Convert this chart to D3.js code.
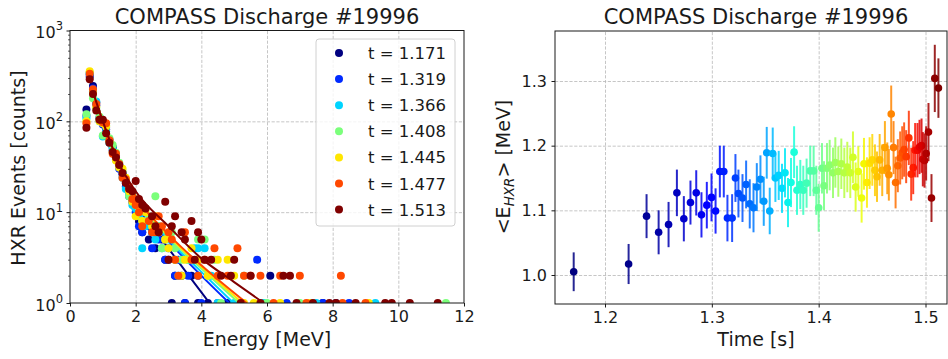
<!DOCTYPE html>
<html>
<head>
<meta charset="utf-8">
<script src="https://cdn.jsdelivr.net/npm/d3@7"></script>
<style>
  html, body { margin: 0; padding: 0; background: #fff; }
  svg { display: block; font-family: "DejaVu Sans", sans-serif; }
</style>
</head>
<body>
<svg id="chart" width="948" height="359"></svg>
<script>
// ---------- HXR energy spectra: [energy MeV, counts] ----------
const seriesTimes = ["1.171", "1.319", "1.366", "1.408", "1.445", "1.477", "1.513"];

const spec1171 = [[0.5,135],[0.6,310],[0.7,245],[0.8,160],[0.9,108],[1.0,100],[1.1,82],[1.2,63],[1.3,52],[1.4,40],[1.5,33],[1.6,26],[1.7,21],[1.8,17],[1.9,13],[2.0,11],[2.1,8],[2.2,6],[2.3,9],[2.4,5],[2.5,6],[2.6,4],[2.8,5],[2.9,3],[3.0,3],[3.1,1],[3.2,2],[3.4,2],[3.5,1],[3.7,2],[3.9,1],[4.2,1],[4.8,1],[6.1,2],[7.7,1],[8.1,1]];
const spec1319 = [[0.5,115],[0.6,330],[0.7,230],[0.8,150],[0.9,110],[1.0,92],[1.1,85],[1.2,60],[1.3,48],[1.4,42],[1.5,30],[1.6,27],[1.7,19],[1.8,15],[1.9,14],[2.0,10],[2.1,7],[2.2,6],[2.3,9],[2.4,7],[2.5,4],[2.6,6],[2.7,5],[2.9,3],[3.0,4],[3.2,2],[3.3,3],[3.5,1],[3.6,2],[3.9,2],[4.0,1],[4.5,1],[5.7,3],[6.6,1],[7.7,1],[8.5,1]];
const spec1366 = [[0.5,108],[0.6,340],[0.7,215],[0.8,165],[0.9,100],[1.0,68],[1.1,78],[1.2,58],[1.3,50],[1.4,38],[1.5,33],[1.6,24],[1.7,18],[1.8,16],[1.9,12],[2.0,11],[2.1,9],[2.2,4],[2.3,7],[2.4,8],[2.5,6],[2.6,5],[2.7,7],[2.8,4],[3.0,5],[3.2,3],[3.3,2],[3.6,3],[3.8,4],[3.9,4],[4.1,4],[4.3,2],[4.5,1],[5.0,1],[5.9,1],[7.5,1],[9.3,1]];
const spec1408 = [[0.5,120],[0.6,345],[0.7,180],[0.8,140],[0.9,112],[1.0,70],[1.1,90],[1.2,65],[1.3,55],[1.4,45],[1.5,35],[1.6,28],[1.7,22],[1.8,15],[1.9,16],[2.0,12],[2.1,11],[2.2,8],[2.4,9],[2.6,15],[2.7,7],[2.8,4],[2.9,5],[3.1,6],[3.2,4],[3.4,3],[3.6,3],[3.9,5],[4.1,5],[4.2,2],[4.4,3],[4.6,1],[5.3,2],[6.0,1],[7.0,1],[11.45,1]];
const spec1445 = [[0.5,100],[0.6,355],[0.7,205],[0.8,145],[0.9,100],[1.0,95],[1.1,88],[1.2,60],[1.3,46],[1.4,37],[1.5,31],[1.6,30],[1.7,24],[1.8,17],[1.9,13],[2.0,9],[2.1,12],[2.2,8],[2.3,10],[2.5,7],[2.6,9],[2.7,6],[2.9,5],[3.0,4],[3.2,3],[3.4,2],[3.5,3],[3.7,4],[3.9,3],[4.2,2],[4.5,3],[4.8,3],[5.0,2],[5.3,1],[5.6,1],[6.4,1],[7.3,1],[9.1,1]];
const spec1477 = [[0.5,95],[0.6,335],[0.7,225],[0.8,155],[0.9,105],[1.0,98],[1.1,95],[1.2,62],[1.3,44],[1.4,44],[1.5,34],[1.6,24],[1.7,23],[1.8,19],[1.9,14],[2.0,12],[2.1,10],[2.2,7],[2.3,11],[2.4,8],[2.5,6],[2.6,6],[2.7,9],[2.8,7],[3.0,6],[3.1,5],[3.2,3],[3.3,2],[3.5,6],[3.7,3],[3.9,2],[4.1,3],[4.4,4],[4.5,2],[4.8,2],[5.1,4],[5.3,2],[5.5,2],[5.8,2],[6.2,1],[6.4,2],[7.0,2],[7.2,1],[8.25,2],[8.3,1],[9.0,1]];
const spec1513 = [[0.5,85],[0.6,290],[0.7,200],[0.8,132],[0.9,104],[1.0,104],[1.1,74],[1.2,58],[1.3,46],[1.4,40],[1.5,33],[1.6,27],[1.7,21],[1.8,18],[1.9,17],[2.0,22],[2.1,14],[2.2,12],[2.3,11],[2.5,9],[2.6,7],[2.7,6],[2.9,13],[3.0,3],[3.1,7],[3.2,9],[3.4,6],[3.5,5],[3.7,8],[3.8,3],[3.9,6],[4.0,5],[4.1,3],[4.3,3],[4.6,2],[4.9,2],[5.0,3],[5.2,1],[5.5,2],[5.8,1],[6.5,2],[6.7,2],[6.9,1],[7.4,1],[7.9,1],[8.1,1],[8.7,1],[9.6,1],[9.8,1],[10.35,1],[11.2,1]];

// fitted spectra (knots of each fit curve): [energy MeV, counts]
const fit1171 = [[0.7,210],[1.0,100],[1.5,33],[2.0,13],[3.0,4.0],[4.25,1]];
const fit1319 = [[0.7,210],[1.0,100],[1.5,33],[2.0,14],[3.0,4.8],[4.0,2.0],[4.85,1]];
const fit1366 = [[0.7,210],[1.0,100],[1.5,33],[2.0,14],[3.0,5.0],[4.0,2.2],[4.98,1]];
const fit1408 = [[0.7,210],[1.0,100],[1.5,33],[2.0,14.5],[3.0,5.3],[4.0,2.4],[5.15,1]];
const fit1445 = [[0.7,210],[1.0,100],[1.5,33],[2.0,15],[3.0,5.5],[4.0,2.5],[5.25,1]];
const fit1477 = [[0.7,210],[1.0,100],[1.5,33],[2.0,15],[3.0,5.7],[4.0,2.6],[5.38,1]];
const fit1513 = [[0.7,210],[1.0,100],[1.5,34],[2.0,17],[3.0,7.0],[4.0,3.1],[5.0,1.7],[5.9,1]];

const spectra = [spec1171, spec1319, spec1366, spec1408, spec1445, spec1477, spec1513];
const fits = [fit1171, fit1319, fit1366, fit1408, fit1445, fit1477, fit1513];

const energyTicks = [0, 2, 4, 6, 8, 10, 12];
const countDecades = [0, 1, 2, 3];

// ---------- mean HXR energy vs time ----------
const timeValues = [1.1707,1.2221,1.2389,1.2502,1.2595,1.2673,1.2738,1.2800,1.2854,1.2903,
  1.2953,1.2997,1.3035,1.3075,1.3112,1.3146,1.3190,1.3221,1.3249,1.3287,
  1.3321,1.3355,1.3390,1.3421,1.3455,1.3486,1.3514,1.3542,1.3570,1.3595,
  1.3626,1.3657,1.3685,1.3713,1.3741,1.3770,1.3797,1.3828,1.3856,1.3887,
  1.3921,1.3953,1.3978,1.4000,1.4031,1.4050,1.4078,1.4103,1.4134,1.4156,
  1.4184,1.4212,1.4240,1.4268,1.4296,1.4321,1.4346,1.4371,1.4402,1.4424,
  1.4452,1.4477,1.4502,1.4527,1.4546,1.4571,1.4595,1.4620,1.4642,1.4657,
  1.4679,1.4701,1.4720,1.4741,1.4763,1.4782,1.4800,1.4819,1.4844,1.4866,
  1.4885,1.4903,1.4925,1.4944,1.4963,1.4975,1.4991,1.5006,1.5028,1.5056,
  1.5087,1.5121];
const meanEnergy = [1.005,1.017,1.091,1.066,1.078,1.127,1.087,1.112,1.127,1.093,
  1.108,1.120,1.099,1.160,1.160,1.088,1.088,1.150,1.126,1.119,
  1.140,1.110,1.104,1.136,1.148,1.114,1.189,1.099,1.188,1.150,
  1.154,1.134,1.158,1.112,1.143,1.190,1.131,1.140,1.131,1.142,
  1.161,1.161,1.131,1.104,1.165,1.138,1.165,1.170,1.158,1.174,
  1.160,1.172,1.158,1.167,1.158,1.182,1.136,1.160,1.119,1.172,
  1.143,1.173,1.178,1.162,1.152,1.178,1.162,1.197,1.165,1.155,
  1.249,1.197,1.143,1.169,1.181,1.189,1.194,1.183,1.212,1.156,
  1.166,1.193,1.193,1.198,1.200,1.179,1.177,1.188,1.221,1.119,
  1.304,1.289];
const energyError = [0.030,0.031,0.034,0.034,0.035,0.036,0.035,0.034,0.035,0.035,
  0.036,0.037,0.035,0.040,0.040,0.036,0.037,0.037,0.037,0.037,
  0.037,0.038,0.038,0.037,0.037,0.038,0.040,0.036,0.040,0.037,
  0.038,0.038,0.038,0.038,0.038,0.040,0.038,0.038,0.038,0.038,
  0.039,0.039,0.038,0.037,0.039,0.038,0.039,0.039,0.039,0.039,
  0.039,0.039,0.039,0.039,0.039,0.040,0.038,0.039,0.038,0.040,
  0.039,0.040,0.040,0.040,0.039,0.040,0.040,0.041,0.040,0.040,
  0.044,0.041,0.040,0.041,0.041,0.041,0.042,0.041,0.042,0.041,
  0.041,0.042,0.042,0.042,0.042,0.042,0.042,0.042,0.045,0.037,
  0.052,0.046];
const timeTicks = [1.2, 1.3, 1.4, 1.5];
const meanTicks = [1.0, 1.1, 1.2, 1.3];

// ---------- jet colour map ----------
const jetR = d3.scaleLinear().domain([0, 0.35, 0.66, 0.89, 1]).range([0, 0, 1, 1, 0.5]).clamp(true);
const jetG = d3.scaleLinear().domain([0, 0.125, 0.375, 0.64, 0.91, 1]).range([0, 0, 1, 1, 0, 0]).clamp(true);
const jetB = d3.scaleLinear().domain([0, 0.11, 0.34, 0.65, 1]).range([0.5, 1, 1, 0, 0]).clamp(true);
function jet(v) {
  return d3.rgb(jetR(v) * 255, jetG(v) * 255, jetB(v) * 255).formatHex();
}

const svg = d3.select("#chart");
const ink = "#1a1a1a";
const gridColor = "#b8b8b8";

// ================= left panel: spectra =================
const L = { left: 70, right: 464, top: 30.5, bottom: 303 };
const xE = d3.scaleLinear().domain([0, 12]).range([L.left, L.right]);
const yC = d3.scaleLog().domain([1, 1000]).range([L.bottom, L.top]);

svg.append("clipPath").attr("id", "clipL").append("rect")
  .attr("x", L.left).attr("y", L.top).attr("width", L.right - L.left).attr("height", L.bottom - L.top);

// grid
svg.append("g").attr("transform", `translate(0,${L.bottom})`)
  .call(d3.axisBottom(xE).tickValues(energyTicks.slice(1, -1)).tickSize(-(L.bottom - L.top)).tickFormat(""))
  .call(g => g.select(".domain").remove())
  .call(g => g.selectAll("line").attr("stroke", gridColor).attr("stroke-width", 0.8).attr("stroke-dasharray", "3.2,1.6"));
svg.append("g").attr("transform", `translate(${L.left},0)`)
  .call(d3.axisLeft(yC).tickValues([10, 100]).tickSize(-(L.right - L.left)).tickFormat(""))
  .call(g => g.select(".domain").remove())
  .call(g => g.selectAll("line").attr("stroke", gridColor).attr("stroke-width", 0.8).attr("stroke-dasharray", "3.2,1.6"));

// data: per series scatter then fit
const plotL = svg.append("g").attr("clip-path", "url(#clipL)");
const fitLine = d3.line().x(d => xE(d[0])).y(d => yC(d[1])).curve(d3.curveMonotoneX);
spectra.forEach((s, i) => {
  const col = jet(i / (spectra.length - 1));
  plotL.append("g").selectAll("circle").data(s).join("circle")
    .attr("cx", d => xE(d[0])).attr("cy", d => yC(d[1])).attr("r", 4).attr("fill", col);
  plotL.append("path").datum(fits[i]).attr("d", fitLine)
    .attr("fill", "none").attr("stroke", col).attr("stroke-width", 2);
});

// axes
const axL = svg.append("g").attr("font-size", 16);
axL.append("g").attr("transform", `translate(0,${L.bottom})`)
  .call(d3.axisBottom(xE).tickValues(energyTicks).tickSize(3.5).tickPadding(4.5).tickFormat(d3.format("d")))
  .call(g => g.select(".domain").remove())
  .call(g => g.selectAll("line").attr("stroke", ink))
  .call(g => g.selectAll("text").attr("fill", ink).attr("font-size", 16).attr("font-family", "DejaVu Sans"));

const minorCounts = [];
[1, 10, 100].forEach(b => { for (let k = 2; k <= 9; k++) minorCounts.push(b * k); });
axL.append("g").attr("transform", `translate(${L.left},0)`)
  .call(d3.axisLeft(yC).tickValues(countDecades.map(e => Math.pow(10, e))).tickSize(3.5).tickFormat(""))
  .call(g => g.select(".domain").remove())
  .call(g => g.selectAll("line").attr("stroke", ink));
axL.append("g").attr("transform", `translate(${L.left},0)`)
  .call(d3.axisLeft(yC).tickValues(minorCounts).tickSize(2).tickFormat(""))
  .call(g => g.select(".domain").remove())
  .call(g => g.selectAll("line").attr("stroke", ink).attr("stroke-width", 0.7));

const decLabels = axL.append("g").selectAll("text").data(countDecades).join("text")
  .attr("x", L.left - 7).attr("y", d => yC(Math.pow(10, d)) + 7.5)
  .attr("text-anchor", "end").attr("font-size", 16).attr("fill", ink);
decLabels.append("tspan").text("10");
decLabels.append("tspan").attr("dy", -8).attr("font-size", 11.5).text(d => d);

svg.append("rect").attr("x", L.left).attr("y", L.top).attr("width", L.right - L.left).attr("height", L.bottom - L.top)
  .attr("fill", "none").attr("stroke", ink).attr("stroke-width", 1);

svg.append("text").attr("x", (L.left + L.right) / 2).attr("y", 24).attr("text-anchor", "middle")
  .attr("font-size", 21).attr("fill", ink).text("COMPASS Discharge #19996");
svg.append("text").attr("x", (L.left + L.right) / 2).attr("y", 345.5).attr("text-anchor", "middle")
  .attr("font-size", 19).attr("fill", ink).text("Energy [MeV]");
svg.append("text").attr("transform", `translate(25,168) rotate(-90)`).attr("text-anchor", "middle")
  .attr("font-size", 19).attr("fill", ink).text("HXR Events [counts]");

// legend
const leg = svg.append("g");
leg.append("rect").attr("x", 316).attr("y", 39).attr("width", 139).attr("height", 187).attr("rx", 3)
  .attr("fill", "#fff").attr("fill-opacity", 0.8).attr("stroke", "#d0d0d0").attr("stroke-width", 1);
const legRows = leg.selectAll("g.row").data(seriesTimes).join("g").attr("class", "row")
  .attr("transform", (d, i) => `translate(0,${53 + i * 26.1})`);
legRows.append("circle").attr("cx", 339).attr("cy", 0).attr("r", 4).attr("fill", (d, i) => jet(i / (seriesTimes.length - 1)));
legRows.append("text").attr("x", 368).attr("y", 6).attr("font-size", 16.5).attr("fill", ink).text(d => `t = ${d}`);

// ================= right panel: mean energy =================
const R = { left: 555, right: 947, top: 31, bottom: 304 };
const xT = d3.scaleLinear().domain([1.2, 1.5]).range([605, 925.5]);
const yM = d3.scaleLinear().domain([1.0, 1.3]).range([275, 81]);

svg.append("clipPath").attr("id", "clipR").append("rect")
  .attr("x", R.left).attr("y", R.top).attr("width", R.right - R.left).attr("height", R.bottom - R.top);

svg.append("g").attr("transform", `translate(0,${R.bottom})`)
  .call(d3.axisBottom(xT).tickValues(timeTicks).tickSize(-(R.bottom - R.top)).tickFormat(""))
  .call(g => g.select(".domain").remove())
  .call(g => g.selectAll("line").attr("stroke", gridColor).attr("stroke-width", 0.8).attr("stroke-dasharray", "3.2,1.6"));
svg.append("g").attr("transform", `translate(${R.left},0)`)
  .call(d3.axisLeft(yM).tickValues(meanTicks).tickSize(-(R.right - R.left)).tickFormat(""))
  .call(g => g.select(".domain").remove())
  .call(g => g.selectAll("line").attr("stroke", gridColor).attr("stroke-width", 0.8).attr("stroke-dasharray", "3.2,1.6"));

const plotR = svg.append("g").attr("clip-path", "url(#clipR)");
const nT = timeValues.length;
const pts = timeValues.map((t, i) => ({ t, e: meanEnergy[i], err: energyError[i], c: jet(i / (nT - 1)) }));
const ptG = plotR.selectAll("g").data(pts).join("g");
ptG.append("line")
  .attr("x1", d => xT(d.t)).attr("x2", d => xT(d.t))
  .attr("y1", d => yM(d.e - d.err)).attr("y2", d => yM(d.e + d.err))
  .attr("stroke", d => d.c).attr("stroke-width", 2).attr("stroke-opacity", 0.85);
ptG.append("circle").attr("cx", d => xT(d.t)).attr("cy", d => yM(d.e)).attr("r", 3.8).attr("fill", d => d.c);

const axR = svg.append("g");
axR.append("g").attr("transform", `translate(0,${R.bottom})`)
  .call(d3.axisBottom(xT).tickValues(timeTicks).tickSize(3.5).tickPadding(4.5).tickFormat(d3.format(".1f")))
  .call(g => g.select(".domain").remove())
  .call(g => g.selectAll("line").attr("stroke", ink))
  .call(g => g.selectAll("text").attr("fill", ink).attr("font-size", 16).attr("font-family", "DejaVu Sans"));
axR.append("g").attr("transform", `translate(${R.left},0)`)
  .call(d3.axisLeft(yM).tickValues(meanTicks).tickSize(3.5).tickPadding(4.5).tickFormat(d3.format(".1f")))
  .call(g => g.select(".domain").remove())
  .call(g => g.selectAll("line").attr("stroke", ink))
  .call(g => g.selectAll("text").attr("fill", ink).attr("font-size", 16).attr("font-family", "DejaVu Sans"));

svg.append("rect").attr("x", R.left).attr("y", R.top).attr("width", R.right - R.left).attr("height", R.bottom - R.top)
  .attr("fill", "none").attr("stroke", ink).attr("stroke-width", 1);

svg.append("text").attr("x", 756).attr("y", 24).attr("text-anchor", "middle")
  .attr("font-size", 21).attr("fill", ink).text("COMPASS Discharge #19996");
svg.append("text").attr("x", 756).attr("y", 345.5).attr("text-anchor", "middle")
  .attr("font-size", 19).attr("fill", ink).text("Time [s]");
const yLab = svg.append("text").attr("transform", `translate(510,167) rotate(-90)`).attr("text-anchor", "middle")
  .attr("font-size", 19).attr("fill", ink);
yLab.append("tspan").text("<E");
yLab.append("tspan").attr("font-size", 13.5).attr("font-style", "italic").attr("dy", 3.5).text("HXR");
yLab.append("tspan").attr("dy", -3.5).text("> [MeV]");
</script>
</body>
</html>
